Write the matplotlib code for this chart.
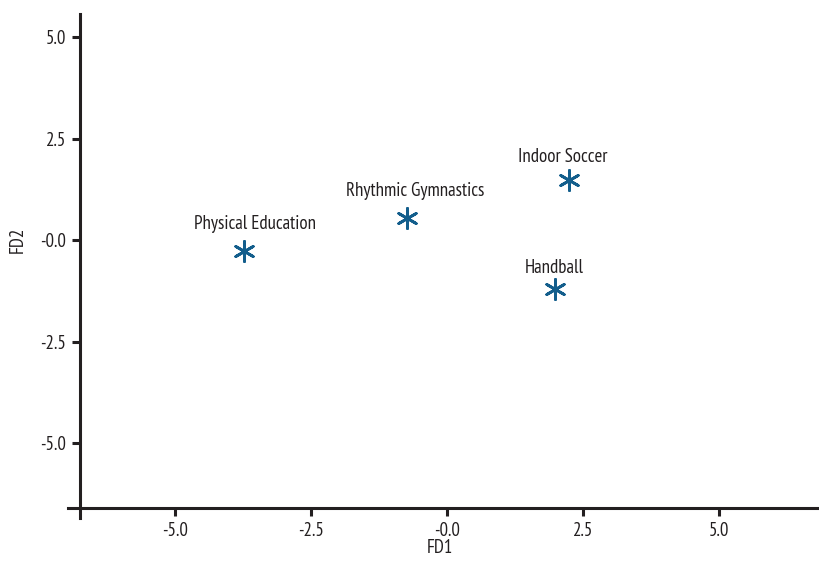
import matplotlib
matplotlib.use("Agg")
import matplotlib.pyplot as plt
from matplotlib import font_manager

names = ["Physical Education", "Rhythmic Gymnastics", "Indoor Soccer", "Handball"]
fd1 = [-3.73, -0.74, 2.24, 1.99]
fd2 = [-0.27, 0.54, 1.48, -1.21]
ticks = [-5.0, -2.5, 0.0, 2.5, 5.0]
tick_labels = ["-5.0", "-2.5", "-0.0", "2.5", "5.0"]

avail = {f.name for f in font_manager.fontManager.ttflist}
fam = [f for f in ("PT Sans Narrow", "Fira Sans Condensed", "DejaVu Sans") if f in avail]
plt.rcParams["font.family"] = fam

W, H = 820, 566
fig = plt.figure(figsize=(W / 100, H / 100), dpi=100)
ax = fig.add_axes([68 / W, 1 - 518 / H, (820 - 68) / W, (518 - 14) / H])
ax.set_xlim(-6.97, 6.857)
ax.set_ylim(-6.847, 5.567)

blue = "#135e8c"
ink = "#231f20"
fs = 13.6
ax.scatter(fd1, fd2, marker=(6, 2, 0), s=210, color=blue, linewidths=2.0, zorder=3)

# label offsets in pixels relative to each marker
offs = [(11, 27), (8, 27), (-6, 23), (-1, 21)]
for n, x, y, o in zip(names, fd1, fd2, offs):
    ax.annotate(n, (x, y), xytext=o, textcoords="offset pixels",
                ha="center", va="center", fontsize=fs, color=ink)

for s in ("top", "right"):
    ax.spines[s].set_visible(False)
ax.spines["left"].set_position(("data", -6.75))
ax.spines["bottom"].set_position(("data", -6.60))
for s in ("left", "bottom"):
    ax.spines[s].set_linewidth(2.2)
    ax.spines[s].set_color(ink)

ax.set_xticks(ticks)
ax.set_xticklabels(tick_labels)
ax.set_yticks(ticks)
ax.set_yticklabels(tick_labels)
ax.tick_params(length=6, width=2.2, color=ink, labelsize=fs,
               labelcolor=ink, pad=4)

fig.text(440 / W, 1 - 548 / H, "FD1", ha="center", va="center", fontsize=fs, color=ink)
fig.text(18 / W, 1 - 240 / H, "FD2", ha="center", va="center", fontsize=fs,
         rotation=90, color=ink)

fig.savefig("out.png", dpi=100)
